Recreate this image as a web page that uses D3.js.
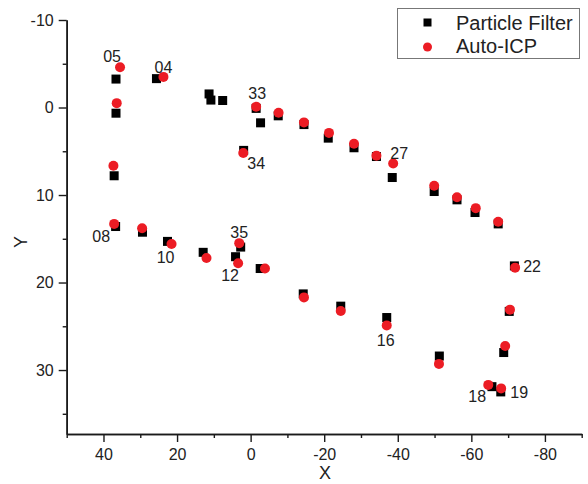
<!DOCTYPE html>
<html>
<head>
<meta charset="utf-8">
<script src="https://cdn.jsdelivr.net/npm/d3@7/dist/d3.min.js"></script>
<style>
  html, body { margin: 0; padding: 0; background: #fff; }
  svg { display: block; }
  text { font-family: "Liberation Sans", Arial, sans-serif; fill: #222; }
</style>
</head>
<body>
<svg id="chart" width="588" height="484"></svg>
<script>
// ---- Data ----
const seriesNames = ["Particle Filter", "Auto-ICP"];

const pfX = [36.6, 25.6, 36.6, 37.1, 36.7, 29.4, 22.6, 12.9, 4.1, -2.6, -14.3, -24.5, -37.0, -51.3, -65.6, -68.0, -68.8, -70.3, -71.7, -67.3, -61.0, -56.1, -49.9, -38.5, -34.2, -28.1, -21.1, -14.5, -7.5, -1.5, -2.7, 1.9, 2.7, 11.3, 10.8, 7.6];
const pfY = [-3.25, -3.3, 0.65, 7.8, 13.6, 14.25, 15.3, 16.55, 17.05, 18.4, 21.3, 22.7, 24.0, 28.4, 31.9, 32.5, 28.0, 23.3, 18.1, 13.3, 12.0, 10.55, 9.6, 8.0, 5.6, 4.6, 3.5, 1.95, 0.95, 0.1, 1.75, 4.9, 15.95, -1.55, -0.85, -0.8];

const icpX = [35.5, 23.7, 36.4, 37.3, 37.1, 29.5, 21.5, 12.0, 3.4, -3.9, -14.5, -24.5, -37.0, -51.2, -64.6, -68.1, -69.2, -70.5, -71.9, -67.3, -61.2, -56.1, -49.9, -38.75, -34.2, -28.1, -21.3, -14.5, -7.6, -1.5, 2.0, 3.1];
const icpY = [-4.6, -3.5, -0.5, 6.65, 13.3, 13.8, 15.6, 17.2, 17.8, 18.4, 21.7, 23.25, 24.9, 29.3, 31.7, 32.1, 27.25, 23.1, 18.3, 13.05, 11.5, 10.25, 8.95, 6.4, 5.5, 4.15, 2.9, 1.7, 0.6, -0.1, 5.2, 15.5];

// point labels: text and the Auto-ICP point index they belong to
const labelText = ["05", "04", "33", "34", "27", "08", "10", "35", "12", "16", "22", "18", "19"];
const labelIdx  = [0, 1, 29, 30, 23, 4, 6, 31, 8, 12, 18, 14, 15];

const xTicks = [40, 20, 0, -20, -40, -60, -80];
const xMinor = [50, 30, 10, -10, -30, -50, -70, -90];
const yTicks = [-10, 0, 10, 20, 30];
const yMinor = [-5, 5, 15, 25, 35];

// ---- Layout / style ----
const labelOffsets = [[-8,-11],[0,-10],[1,-13.5],[13,10],[6,-10],[-13,12],[-6,13],[0,-11],[-8,12],[-1,15],[17,-1],[-11,11],[18,4]];
const plotLeft = 66.7, plotRight = 581.7, plotTop = 20, plotBottom = 434;
const red = "#ec1c24";

const svg = d3.select("#chart");
const x = d3.scaleLinear().domain([50, -90]).range([plotLeft, plotRight]);
const y = d3.scaleLinear().domain([-10, 37.31]).range([plotTop, plotBottom]);

// axes
const axisColor = "#1a1a1a";
function styleAxis(g) {
  g.select(".domain").attr("stroke", axisColor).attr("stroke-width", 1.6);
  g.selectAll(".tick line").attr("stroke", axisColor).attr("stroke-width", 1.4);
  g.selectAll(".tick text").style("font-size", "16px").attr("fill", "#222");
}

const xMinorG = svg.append("g").attr("transform", `translate(0,${plotBottom})`)
  .call(d3.axisBottom(x).tickValues(xMinor).tickSize(4).tickSizeOuter(0).tickFormat(""));
styleAxis(xMinorG);
const xG = svg.append("g").attr("transform", `translate(0,${plotBottom})`)
  .call(d3.axisBottom(x).tickValues(xTicks).tickSize(8).tickSizeOuter(0).tickPadding(7).tickFormat(d => String(d)));
styleAxis(xG);

const yMinorG = svg.append("g").attr("transform", `translate(${plotLeft},0)`)
  .call(d3.axisLeft(y).tickValues(yMinor).tickSize(4).tickSizeOuter(0).tickFormat(""));
styleAxis(yMinorG);
const yG = svg.append("g").attr("transform", `translate(${plotLeft},0)`)
  .call(d3.axisLeft(y).tickValues(yTicks).tickSize(8).tickSizeOuter(0).tickPadding(5).tickFormat(d => String(d)));
styleAxis(yG);

// axis titles
svg.append("text").attr("x", 325).attr("y", 479).attr("text-anchor", "middle")
  .style("font-size", "18px").text("X");
svg.append("text").attr("transform", "translate(27,242) rotate(-90)").attr("text-anchor", "middle")
  .style("font-size", "18px").text("Y");

// points
const pf = pfX.map((v, i) => ({x: v, y: pfY[i]}));
const icp = icpX.map((v, i) => ({x: v, y: icpY[i]}));
const sq = 9;
svg.append("g").selectAll("rect").data(pf).join("rect")
  .attr("x", d => x(d.x) - sq / 2).attr("y", d => y(d.y) - sq / 2)
  .attr("width", sq).attr("height", sq).attr("fill", "#000");
svg.append("g").selectAll("circle").data(icp).join("circle")
  .attr("cx", d => x(d.x)).attr("cy", d => y(d.y)).attr("r", 5).attr("fill", red);

// point labels
svg.append("g").selectAll("text").data(labelText).join("text")
  .attr("x", (t, i) => x(icpX[labelIdx[i]]) + labelOffsets[i][0])
  .attr("y", (t, i) => y(icpY[labelIdx[i]]) + labelOffsets[i][1] + 5.7)
  .attr("text-anchor", "middle").style("font-size", "16px").text(t => t);

// legend
const lg = svg.append("g");
lg.append("rect").attr("x", 397.5).attr("y", 8.5).attr("width", 182).attr("height", 50)
  .attr("fill", "#fff").attr("stroke", "#777").attr("stroke-width", 1);
lg.append("rect").attr("x", 427.5 - 4).attr("y", 22.5 - 4).attr("width", 8).attr("height", 8).attr("fill", "#000");
lg.append("circle").attr("cx", 427.5).attr("cy", 47).attr("r", 4.5).attr("fill", red);
lg.append("text").attr("x", 456).attr("y", 29.5).style("font-size", "20px").text(seriesNames[0]);
lg.append("text").attr("x", 456).attr("y", 53).style("font-size", "20px").text(seriesNames[1]);
</script>
</body>
</html>
